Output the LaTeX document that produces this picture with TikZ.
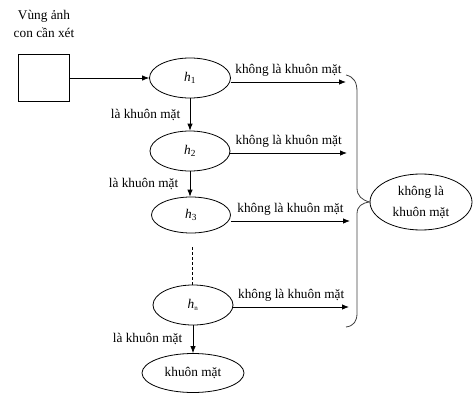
\documentclass[tikz,border=0pt]{standalone}
\usepackage{fontspec}
\setmainfont{Liberation Serif}
\usetikzlibrary{shapes.geometric,arrows.meta}

\begin{document}
\begin{tikzpicture}[x=1pt, y=-1pt, font=\fontsize{13.3}{18}\selectfont,
        hop/.style={draw, line width=0.8pt, inner sep=0pt},
        bo/.style={hop, ellipse},
        mui/.style={-{Latex[length=7pt,width=5.5pt]}, line width=0.8pt}]
        \useasboundingbox (0,0) rectangle (473,396);

        \node[align=center] (vung) at (44,24) {Vùng ảnh\\con cần xét};
        \node[hop, minimum width=51, minimum height=47] (anh) at (44,78) {};

        \node[bo, minimum width=81, minimum height=40] (h1) at (190,78) {\textit{h}\textsubscript{1}};
        \node[bo, minimum width=80, minimum height=40] (h2) at (190,151) {\textit{h}\textsubscript{2}};
        \node[bo, minimum width=79, minimum height=36] (h3) at (191,215) {\textit{h}\textsubscript{3}};
        \node[bo, minimum width=80, minimum height=40] (hn) at (193,305) {\textit{h}\textsubscript{\scriptsize n}};
        \node[bo, minimum width=102, minimum height=39] (mat) at (193,373) {khuôn mặt};
        \node[bo, minimum width=102, minimum height=56, align=center,
              font=\fontsize{13.3}{21}\selectfont] (khong) at (421,202) {không là\\khuôn mặt};

        \draw[mui] (anh) -- (h1);

        % nhanh la khuon mat
        \draw[mui] (h1.south) -- (h1.south |- h2.north) node[midway, left=6pt] {là khuôn mặt};
        \draw[mui] (h2.south) -- (h2.south |- h3.north) node[midway, left=8pt] {là khuôn mặt};
        \coordinate (d1) at (192,247);
        \draw[dashed, dash pattern=on 3pt off 2pt, line width=0.8pt] (d1) -- (d1 |- hn.north);
        \draw[mui] (hn.south) -- (hn.south |- mat.north) node[midway, left=7pt] {là khuôn mặt};

        % nhanh khong la khuon mat
        \coordinate (k1) at (346,82);
        \coordinate (k2) at (347,153);
        \coordinate (k3) at (350,221);
        \coordinate (kn) at (349,307);
        \draw[mui] (h1.east |- k1) -- (k1) node[midway, above=2pt] {không là khuôn mặt};
        \draw[mui] (h2.east |- k2) -- (k2) node[midway, above=2pt] {không là khuôn mặt};
        \draw[mui] (h3.east |- k3) -- (k3) node[midway, above=2pt] {không là khuôn mặt};
        \draw[mui] (hn.east |- kn) -- (kn) node[midway, above=2pt] {không là khuôn mặt};

        % ngoac
        \draw[line width=0.8pt, black!75] (346,75) .. controls (354,77) and (357,82) .. (357,92) -- (357,188)
            .. controls (357,196) and (362,200) .. (khong.west)
            .. controls (362,203) and (357,206) .. (357,214) -- (357,313)
            .. controls (357,321) and (354,326) .. (346,327);
    \end{tikzpicture}
\end{document}
